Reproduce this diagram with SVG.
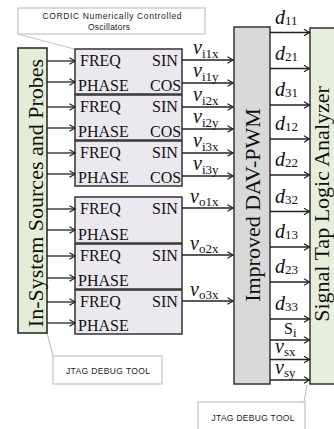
<svg xmlns="http://www.w3.org/2000/svg" width="334" height="429" viewBox="0 0 334 429">
<defs>
<marker id="ah" markerWidth="8" markerHeight="8" refX="6.5" refY="4" orient="auto" markerUnits="userSpaceOnUse">
<path d="M1,0.8 L6.5,4 L1,7.2" fill="none" stroke="#222" stroke-width="1.2"/>
</marker>
<style>
.cl{fill:#fff;stroke:#c4c4c4;stroke-width:1.2}
.cp{stroke:#c4c4c4;stroke-width:1.2;fill:none}
.ct{font-family:"Liberation Sans",Arial,sans-serif;font-size:8.5px;fill:#222}
.osc{fill:#ebe8f0;stroke:#333;stroke-width:1.5}
.ot{font-family:"Liberation Serif","Times New Roman",serif;font-size:16px;fill:#111}
.big{font-family:"Liberation Serif","Times New Roman",serif;font-size:22px;fill:#111}
.ln{stroke:#222;stroke-width:1.3;fill:none;marker-end:url(#ah)}
.lab{font-family:"Liberation Serif","Times New Roman",serif;fill:#111}
.vi{font-style:italic;font-size:20px}
.sb{font-size:13px}
</style>
</defs>

<g id="cordic-callout">
<line class="cp" x1="18" y1="34" x2="74" y2="49"/>
<rect class="cl" x="18" y="8" width="187" height="26"/>
<text class="ct" x="112" y="19" text-anchor="middle" textLength="139" lengthAdjust="spacing">CORDIC Numerically Controlled</text>
<text class="ct" x="109" y="30" text-anchor="middle" textLength="42" lengthAdjust="spacing">Oscillators</text>
</g>

<g id="jtag1">
<line class="cp" x1="47" y1="333" x2="53" y2="356"/>
<rect class="cl" x="53" y="356" width="109" height="28"/>
<text class="ct" x="108" y="374" text-anchor="middle" textLength="84" lengthAdjust="spacing">JTAG DEBUG TOOL</text>
</g>

<g id="jtag2">
<line class="cp" x1="307" y1="385" x2="304" y2="402"/>
<rect class="cl" x="198" y="402" width="107" height="40"/>
<text class="ct" x="253" y="421" text-anchor="middle" textLength="83" lengthAdjust="spacing">JTAG DEBUG TOOL</text>
</g>

<g id="in-system">
<rect x="18" y="48" width="29" height="285" fill="#e3eed8" stroke="#222" stroke-width="1.5"/>
<text class="big" transform="translate(42.5,193) rotate(-90)" text-anchor="middle">In-System Sources and Probes</text>
</g>

<g id="osc1">
<rect class="osc" x="75" y="49" width="107" height="45"/>
<text class="ot" x="80" y="66">FREQ</text><text class="ot" x="152" y="66">SIN</text>
<text class="ot" x="78" y="91">PHASE</text><text class="ot" x="150" y="91">COS</text>
</g>
<g id="osc2">
<rect class="osc" x="75" y="95" width="107" height="45"/>
<text class="ot" x="80" y="112">FREQ</text><text class="ot" x="152" y="112">SIN</text>
<text class="ot" x="78" y="137">PHASE</text><text class="ot" x="150" y="137">COS</text>
</g>
<g id="osc3">
<rect class="osc" x="75" y="141" width="107" height="45"/>
<text class="ot" x="80" y="158">FREQ</text><text class="ot" x="152" y="158">SIN</text>
<text class="ot" x="78" y="183">PHASE</text><text class="ot" x="150" y="183">COS</text>
</g>
<g id="osc4">
<rect class="osc" x="75" y="197" width="107" height="46"/>
<text class="ot" x="80" y="214">FREQ</text><text class="ot" x="152" y="214">SIN</text>
<text class="ot" x="78" y="240">PHASE</text>
</g>
<g id="osc5">
<rect class="osc" x="75" y="244" width="107" height="45"/>
<text class="ot" x="80" y="261">FREQ</text><text class="ot" x="152" y="261">SIN</text>
<text class="ot" x="78" y="286">PHASE</text>
</g>
<g id="osc6">
<rect class="osc" x="75" y="290" width="107" height="44"/>
<text class="ot" x="80" y="307">FREQ</text><text class="ot" x="152" y="307">SIN</text>
<text class="ot" x="78" y="331">PHASE</text>
</g>

<g id="pwm">
<rect x="234" y="27" width="36" height="357" fill="#d9d9d9" stroke="#333" stroke-width="1.5"/>
<text class="big" transform="translate(259.5,205) rotate(-90)" text-anchor="middle">Improved DAV-PWM</text>
</g>

<g id="signaltap">
<rect x="310" y="28" width="30" height="356" fill="#e6efdc" stroke="#333" stroke-width="1.5"/>
<text class="big" transform="translate(328.5,204) rotate(-90)" text-anchor="middle">Signal Tap Logic Analyzer</text>
</g>

<g id="connectors">
<line class="ln" x1="47" y1="61" x2="75" y2="61"/>
<line class="ln" x1="47" y1="82" x2="75" y2="82"/>
<line class="ln" x1="47" y1="107" x2="75" y2="107"/>
<line class="ln" x1="47" y1="128" x2="75" y2="128"/>
<line class="ln" x1="47" y1="153" x2="75" y2="153"/>
<line class="ln" x1="47" y1="174" x2="75" y2="174"/>
<line class="ln" x1="47" y1="209" x2="75" y2="209"/>
<line class="ln" x1="47" y1="230" x2="75" y2="230"/>
<line class="ln" x1="47" y1="256" x2="75" y2="256"/>
<line class="ln" x1="47" y1="278" x2="75" y2="278"/>
<line class="ln" x1="47" y1="302" x2="75" y2="302"/>
<line class="ln" x1="47" y1="323" x2="75" y2="323"/>
<line class="ln" x1="182" y1="60" x2="233" y2="60"/>
<line class="ln" x1="182" y1="83" x2="233" y2="83"/>
<line class="ln" x1="182" y1="107" x2="233" y2="107"/>
<line class="ln" x1="182" y1="129" x2="233" y2="129"/>
<line class="ln" x1="182" y1="153" x2="233" y2="153"/>
<line class="ln" x1="182" y1="176" x2="233" y2="176"/>
<line class="ln" x1="182" y1="208" x2="233" y2="208"/>
<line class="ln" x1="182" y1="255" x2="233" y2="255"/>
<line class="ln" x1="182" y1="301" x2="233" y2="301"/>
<line class="ln" x1="270" y1="32.5" x2="309.5" y2="32.5"/>
<line class="ln" x1="270" y1="68.5" x2="309.5" y2="68.5"/>
<line class="ln" x1="270" y1="105" x2="309.5" y2="105"/>
<line class="ln" x1="270" y1="139" x2="309.5" y2="139"/>
<line class="ln" x1="270" y1="175" x2="309.5" y2="175"/>
<line class="ln" x1="270" y1="211.5" x2="309.5" y2="211.5"/>
<line class="ln" x1="270" y1="247" x2="309.5" y2="247"/>
<line class="ln" x1="270" y1="282" x2="309.5" y2="282"/>
<line class="ln" x1="270" y1="319" x2="309.5" y2="319"/>
<line class="ln" x1="270" y1="340" x2="309.5" y2="340"/>
<line class="ln" x1="270" y1="359.5" x2="309.5" y2="359.5"/>
<line class="ln" x1="270" y1="380" x2="309.5" y2="380"/>
<g class="lab">
<text x="193" y="54"><tspan class="vi">v</tspan><tspan class="sb" dy="4">i1x</tspan></text>
<text x="193" y="77"><tspan class="vi">v</tspan><tspan class="sb" dy="4">i1y</tspan></text>
<text x="193" y="101"><tspan class="vi">v</tspan><tspan class="sb" dy="4">i2x</tspan></text>
<text x="193" y="123"><tspan class="vi">v</tspan><tspan class="sb" dy="4">i2y</tspan></text>
<text x="193" y="147"><tspan class="vi">v</tspan><tspan class="sb" dy="4">i3x</tspan></text>
<text x="193" y="170"><tspan class="vi">v</tspan><tspan class="sb" dy="4">i3y</tspan></text>
<text x="190" y="203"><tspan class="vi">v</tspan><tspan class="sb" dy="3">o1x</tspan></text>
<text x="190" y="250"><tspan class="vi">v</tspan><tspan class="sb" dy="3">o2x</tspan></text>
<text x="190" y="296"><tspan class="vi">v</tspan><tspan class="sb" dy="3">o3x</tspan></text>
<text x="275" y="23.5"><tspan class="vi">d</tspan><tspan class="sb" dy="1">11</tspan></text>
<text x="275" y="59.5"><tspan class="vi">d</tspan><tspan class="sb" dy="1">21</tspan></text>
<text x="275" y="96"><tspan class="vi">d</tspan><tspan class="sb" dy="1">31</tspan></text>
<text x="275" y="130"><tspan class="vi">d</tspan><tspan class="sb" dy="1">12</tspan></text>
<text x="275" y="166"><tspan class="vi">d</tspan><tspan class="sb" dy="1">22</tspan></text>
<text x="275" y="202.5"><tspan class="vi">d</tspan><tspan class="sb" dy="1">32</tspan></text>
<text x="275" y="238"><tspan class="vi">d</tspan><tspan class="sb" dy="1">13</tspan></text>
<text x="275" y="273"><tspan class="vi">d</tspan><tspan class="sb" dy="1">23</tspan></text>
<text x="275" y="310"><tspan class="vi">d</tspan><tspan class="sb" dy="1">33</tspan></text>
<text x="284" y="334" font-size="16px">S<tspan class="sb" dy="3">i</tspan></text>
<text x="275" y="353"><tspan class="vi">v</tspan><tspan class="sb" dy="3">sx</tspan></text>
<text x="275" y="374"><tspan class="vi">v</tspan><tspan class="sb" dy="3">sy</tspan></text>
</g>
</g>
</svg>
